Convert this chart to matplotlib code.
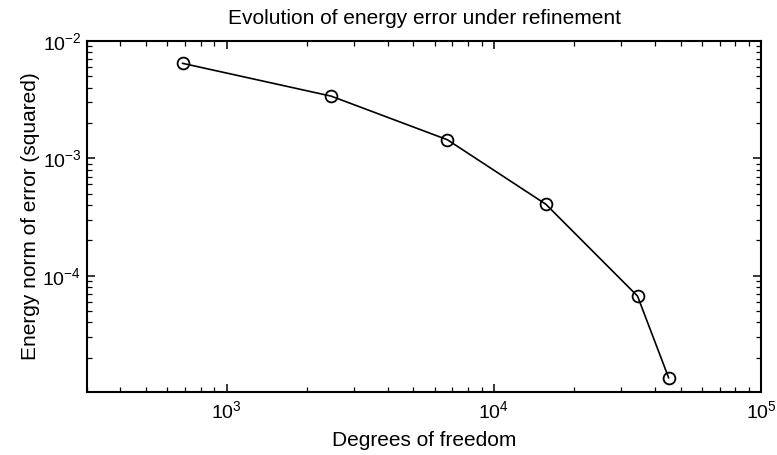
import numpy as np
import matplotlib
matplotlib.use("Agg")
import matplotlib.pyplot as plt

# data
dofs = [684, 2460, 6700, 15660, 34500, 45100]
energy_err = [6.45e-3, 3.39e-3, 1.44e-3, 4.06e-4, 6.7e-5, 1.35e-5]

plt.rcParams['font.family'] = ['Liberation Sans', 'DejaVu Sans']
plt.rcParams['mathtext.fontset'] = 'custom'
plt.rcParams['mathtext.rm'] = 'Liberation Sans'
plt.rcParams['mathtext.it'] = 'Liberation Sans:italic'

fig = plt.figure(figsize=(7.77, 4.55), dpi=100)
ax = fig.add_axes([87/777, 63/455, 674/777, 351/455])

ax.loglog(dofs, energy_err, 'k-o', lw=1.2, markersize=8.5,
          markerfacecolor='none', markeredgewidth=1.3)

ax.set_xlim(300, 1e5)
ax.set_ylim(1.02e-5, 1e-2)  # bottom label not shown in the original

ax.set_title("Evolution of energy error under refinement", fontsize=15, pad=12)
ax.set_xlabel("Degrees of freedom", fontsize=15, labelpad=6)
ax.set_ylabel("Energy norm of error (squared)", fontsize=15, labelpad=2)

for s in ax.spines.values():
    s.set_linewidth(1.5)
ax.tick_params(which='both', direction='in', top=True, right=True, labelsize=14)
ax.tick_params(which='major', length=6, width=1.1)
ax.tick_params(axis='x', which='major', pad=6)
ax.tick_params(axis='y', which='major', pad=4)
ax.tick_params(which='minor', length=3.5, width=0.9)

fig.savefig("out.png", dpi=100)
